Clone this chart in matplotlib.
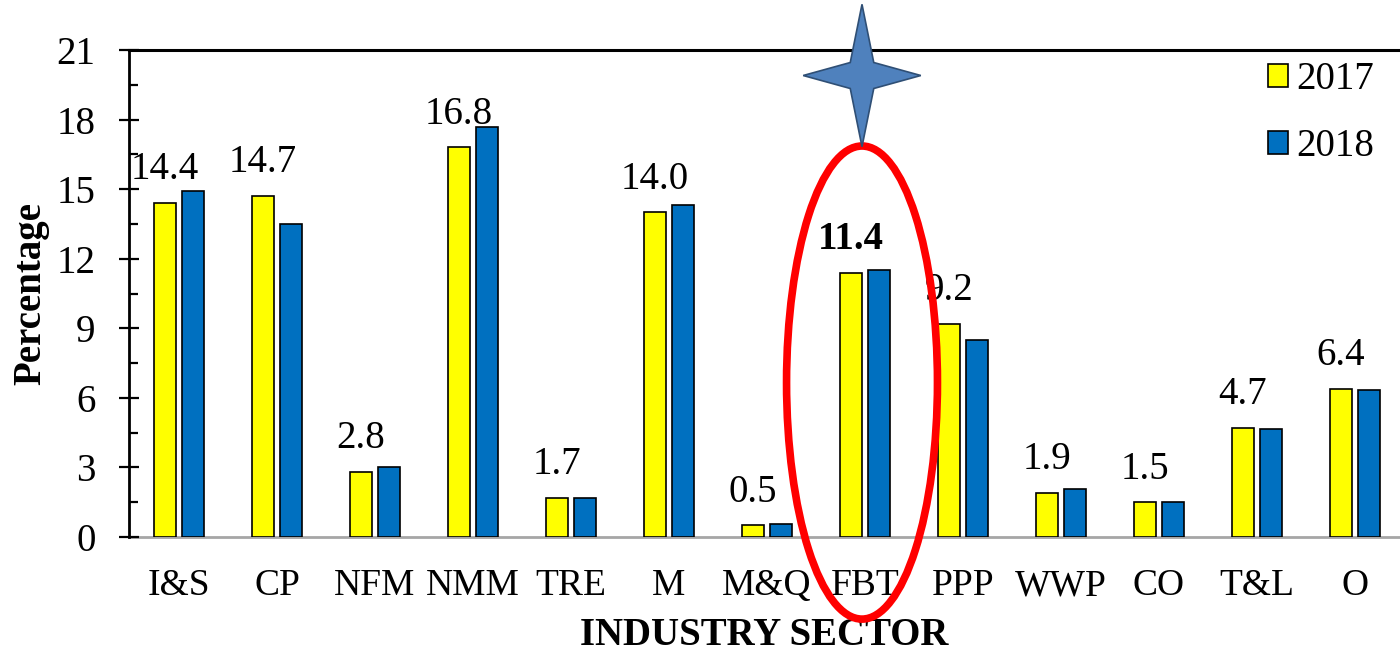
import numpy as np
import matplotlib.pyplot as plt
from matplotlib.patches import Ellipse, Polygon

plt.rcParams['font.family'] = ['Liberation Serif', 'DejaVu Serif']

sectors = ['I&S', 'CP', 'NFM', 'NMM', 'TRE', 'M', 'M&Q', 'FBT', 'PPP', 'WWP', 'CO', 'T&L', 'O']
share_2017 = [14.4, 14.7, 2.8, 16.8, 1.7, 14.0, 0.5, 11.4, 9.2, 1.9, 1.5, 4.7, 6.4]
share_2018 = [14.9, 13.5, 3.0, 17.7, 1.7, 14.3, 0.55, 11.5, 8.5, 2.05, 1.5, 4.65, 6.35]
years = ['2017', '2018']
highlight = 'FBT'

bar_w = 0.225
off = 0.143

fig = plt.figure(figsize=(14, 6.55), dpi=100)
ax = fig.add_axes([129 / 1400, 118 / 655, 1271 / 1400, 487 / 655])

x = np.arange(len(sectors))
ax.bar(x - off, share_2017, bar_w, color='#FFFF00', edgecolor='black', linewidth=1.2,
       label=years[0], zorder=2)
ax.bar(x + off, share_2018, bar_w, color='#0070C0', edgecolor='black', linewidth=1.2,
       label=years[1], zorder=2)

# value labels over the 2017 bars
for i, v in enumerate(share_2017):
    ax.annotate(f'{v:.1f}', (x[i] - off, v), xytext=(0, 17), textcoords='offset points',
                ha='center', va='baseline', fontsize=28,
                fontweight='bold' if sectors[i] == highlight else 'normal', zorder=3)

ax.set_xlim(-0.51, 12.46)
ax.set_ylim(0, 21)
ax.set_yticks(np.arange(0, 22, 3))
ax.set_yticks(np.arange(0, 21.1, 1.5), minor=True)
ax.set_xticks(x)
ax.set_xticklabels(sectors, fontsize=27)

ax.tick_params(axis='y', which='major', direction='inout', length=14, width=1.6,
               labelsize=28, pad=17)
ax.tick_params(axis='y', which='minor', direction='in', length=6.5, width=1.6)
ax.tick_params(axis='x', length=0, pad=23)

ax.spines['right'].set_visible(False)
ax.spines['left'].set_linewidth(2)
ax.spines['top'].set_linewidth(2.2)
ax.spines['bottom'].set_color('#A6A6A6')
ax.spines['bottom'].set_linewidth(2)
ax.spines['bottom'].set_zorder(1)

ax.set_ylabel('Percentage', fontsize=28, fontweight='bold', labelpad=5)
ax.set_xlabel('INDUSTRY SECTOR', fontsize=28, fontweight='bold', labelpad=10)

ax.legend(loc='upper left', bbox_to_anchor=(1268 / 1400, 1 - 61 / 655),
          bbox_transform=fig.transFigure, frameon=False, fontsize=28,
          handlelength=0.52, handleheight=0.52, handletextpad=0.2,
          labelspacing=0.78, borderpad=0, borderaxespad=0)

# ring and star around the highlighted sector
k = sectors.index(highlight)
ring = Ellipse((k - 0.03, 6.66), 1.54, 20.4, fill=False, edgecolor='#FF0000',
               linewidth=5.5, clip_on=False, zorder=5)
ax.add_patch(ring)

cx, cy = k - 0.03, 19.9
outer_x, outer_y = 0.6, 3.07
inner_x, inner_y = 0.12, 0.56
pts = []
for j in range(8):
    ang = np.pi / 2 - j * np.pi / 4
    if j % 2 == 0:
        pts.append((cx + outer_x * np.cos(ang), cy + outer_y * np.sin(ang)))
    else:
        pts.append((cx + inner_x * np.sign(np.cos(ang)), cy + inner_y * np.sign(np.sin(ang))))
star = Polygon(pts, closed=True, facecolor='#4F81BD', edgecolor='#2F4F75',
               linewidth=1.2, clip_on=False, zorder=6)
ax.add_patch(star)

fig.savefig('out.png', dpi=100)
